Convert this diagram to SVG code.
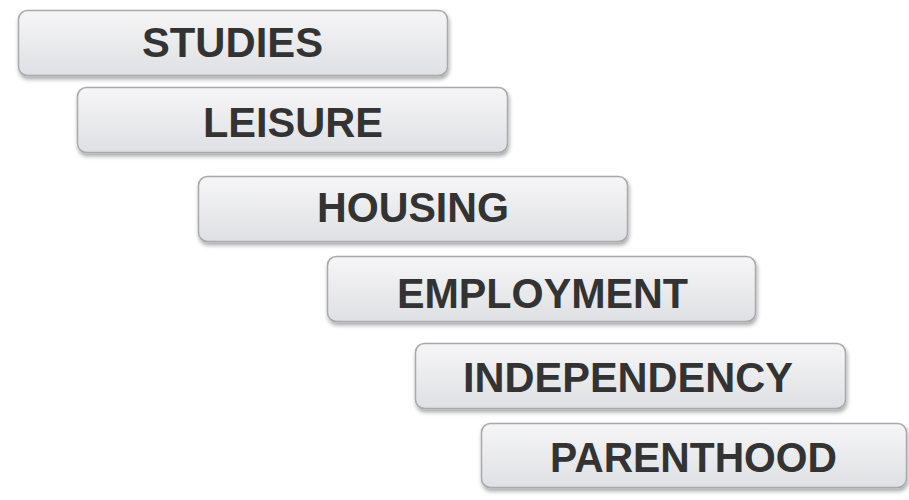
<svg xmlns="http://www.w3.org/2000/svg" width="909" height="500" viewBox="0 0 909 500">
  <style>
    .box { fill: url(#boxFill); stroke: #a9a9ab; stroke-width: 1.5; filter: url(#shadow); }
    .label { font-family: "Liberation Sans", Arial, sans-serif; font-weight: bold; font-size: 42px; fill: #333333; text-anchor: middle; }
  </style>
  <defs>
    <linearGradient id="boxFill" x1="0" y1="0" x2="0" y2="1">
      <stop offset="0" stop-color="#f6f6f7"/>
      <stop offset="1" stop-color="#dfe0e3"/>
    </linearGradient>
    <filter id="shadow" x="-5%" y="-20%" width="110%" height="150%">
      <feGaussianBlur in="SourceAlpha" stdDeviation="2"/>
      <feOffset dx="1" dy="3" result="b"/>
      <feComponentTransfer><feFuncA type="linear" slope="0.35"/></feComponentTransfer>
      <feMerge><feMergeNode/><feMergeNode in="SourceGraphic"/></feMerge>
    </filter>
  </defs>
  <rect width="909" height="500" fill="#ffffff"/>

  <g id="studies">
    <rect class="box" x="18.5" y="10.5" width="429" height="65" rx="9"/>
    <text class="label" x="232.5" y="57" textLength="181" lengthAdjust="spacingAndGlyphs">STUDIES</text>
  </g>
  <g id="leisure">
    <rect class="box" x="77.5" y="87.5" width="430" height="65" rx="9"/>
    <text class="label" x="293" y="137" textLength="180" lengthAdjust="spacingAndGlyphs">LEISURE</text>
  </g>
  <g id="housing">
    <rect class="box" x="198.5" y="176.5" width="429" height="65" rx="9"/>
    <text class="label" x="413" y="222" textLength="192" lengthAdjust="spacingAndGlyphs">HOUSING</text>
  </g>
  <g id="employment">
    <rect class="box" x="327.5" y="256.5" width="428" height="65" rx="9"/>
    <text class="label" x="542.5" y="308" textLength="291" lengthAdjust="spacingAndGlyphs">EMPLOYMENT</text>
  </g>
  <g id="independency">
    <rect class="box" x="415.5" y="343.5" width="430" height="65" rx="9"/>
    <text class="label" x="628" y="392" textLength="330" lengthAdjust="spacingAndGlyphs">INDEPENDENCY</text>
  </g>
  <g id="parenthood">
    <rect class="box" x="481.5" y="423.5" width="425" height="64" rx="9"/>
    <text class="label" x="693.5" y="472" textLength="287" lengthAdjust="spacingAndGlyphs">PARENTHOOD</text>
  </g>
  <g id="connectors"/>
</svg>
